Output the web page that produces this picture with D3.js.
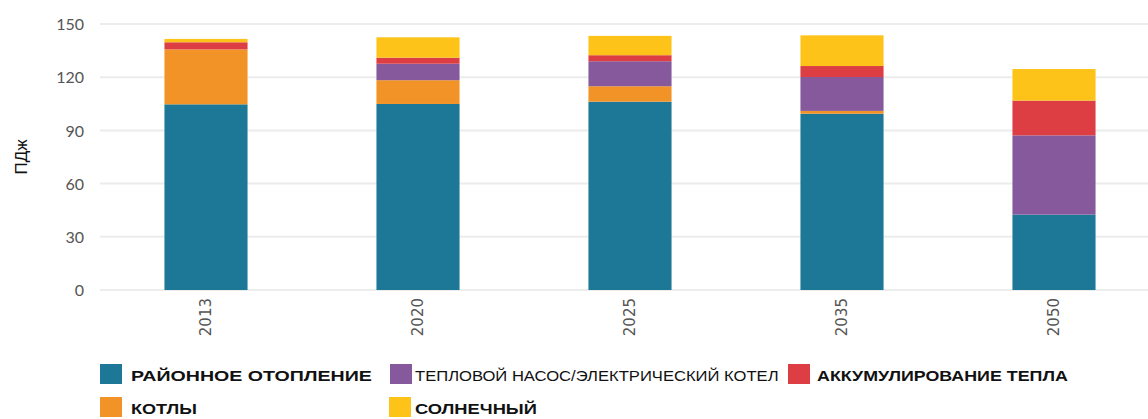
<!DOCTYPE html>
<html>
<head>
<meta charset="utf-8">
<script src="https://cdn.jsdelivr.net/npm/d3@7"></script>
<style>
  html, body { margin: 0; padding: 0; background: #fff; }
  svg { display: block; }
</style>
</head>
<body>
<svg id="chart" width="1148" height="419"></svg>
<script>
// Heat supply mix by year, PJ
const years = ["2013", "2020", "2025", "2035", "2050"];
const seriesNames = ["РАЙОННОЕ ОТОПЛЕНИЕ", "КОТЛЫ", "ТЕПЛОВОЙ НАСОС/ЭЛЕКТРИЧЕСКИЙ КОТЕЛ", "АККУМУЛИРОВАНИЕ ТЕПЛА", "СОЛНЕЧНЫЙ"];
const districtHeating = [104.7, 104.9, 106.2, 99.4, 42.5];
const boilers        = [31.0, 13.4, 8.7, 1.6, 0];
const heatPumps      = [0, 9.3, 14.1, 19.1, 44.7];
const heatStorage    = [4.0, 3.4, 3.4, 6.2, 19.6];
const solar          = [1.9, 11.5, 10.9, 17.3, 17.8];
const yTicks = [0, 30, 60, 90, 120, 150];
const yTitle = "ПДж";

const colors = ["#1c7896", "#f29327", "#85599b", "#dd3e44", "#fdc318"];
const seriesValues = [districtHeating, boilers, heatPumps, heatStorage, solar];

const rows = years.map((y, i) => {
  const r = { year: y };
  seriesNames.forEach((s, k) => { r[s] = seriesValues[k][i]; });
  return r;
});

const svg = d3.select("#chart");
const plotLeft = 100, plotRight = 1160, plotTop = 24, plotBottom = 290;

const x = d3.scaleBand().domain(years).range([plotLeft, plotRight])
  .paddingInner(0.608).paddingOuter(0.304);
const y = d3.scaleLinear().domain([0, 150]).range([plotBottom, plotTop]);

// gridlines
svg.append("g").selectAll("line").data(yTicks).join("line")
  .attr("x1", plotLeft).attr("x2", 1148)
  .attr("y1", d => y(d)).attr("y2", d => y(d))
  .attr("stroke", "#ececec").attr("stroke-width", 2);

// y axis labels
const yAxis = d3.axisLeft(y).tickValues(yTicks).tickSize(0).tickPadding(0);
const yg = svg.append("g").attr("transform", `translate(84,0)`).call(yAxis);
yg.select(".domain").remove();
yg.selectAll("text")
  .attr("font-family", "Lato, sans-serif").attr("font-size", 16)
  .attr("fill", "#555").attr("dy", "0.35em");

// y title
svg.append("text")
  .attr("transform", "translate(27,157) rotate(-90)")
  .attr("text-anchor", "middle")
  .attr("font-family", "'Liberation Sans', Arial, sans-serif")
  .attr("font-size", 17).attr("fill", "#111")
  .text(yTitle);

// stacked bars
const stack = d3.stack().keys(seriesNames)(rows);
svg.append("g").selectAll("g").data(stack).join("g")
  .attr("fill", (d, i) => colors[i])
  .selectAll("rect").data(d => d).join("rect")
  .attr("x", d => x(d.data.year))
  .attr("width", x.bandwidth())
  .attr("y", d => y(d[1]))
  .attr("height", d => Math.max(0, y(d[0]) - y(d[1])));

// x axis labels (rotated)
const xAxis = d3.axisBottom(x).tickSize(0).tickPadding(0);
const xg = svg.append("g").attr("transform", `translate(0,${plotBottom})`).call(xAxis);
xg.select(".domain").remove();
xg.selectAll("text")
  .attr("font-family", "'DejaVu Sans', sans-serif").attr("font-size", 15)
  .attr("fill", "#555")
  .attr("text-anchor", "end")
  .attr("dy", null)
  .attr("transform", "translate(0,8) rotate(-90)")
  .attr("x", 0).attr("y", 0)
  .attr("dominant-baseline", "central");

// legend: each label is stretched horizontally to its target width
const legendItems = [
  { name: seriesNames[0], color: colors[0], x: 100, y: 364, tx: 31, w: 241, bold: true },
  { name: seriesNames[2], color: colors[2], x: 390, y: 364, tx: 25, w: 364, bold: false },
  { name: seriesNames[3], color: colors[3], x: 788, y: 364, tx: 29, w: 251, bold: true },
  { name: seriesNames[1], color: colors[1], x: 100, y: 397, tx: 31, w: 66, bold: true },
  { name: seriesNames[4], color: colors[4], x: 389, y: 397, tx: 26, w: 122, bold: true }
];
const lg = svg.append("g").selectAll("g").data(legendItems).join("g")
  .attr("transform", d => `translate(${d.x},${d.y})`);
lg.append("rect").attr("width", 22).attr("height", 20).attr("fill", d => d.color);
lg.append("text")
  .attr("font-family", "'Liberation Sans', Arial, sans-serif")
  .attr("font-size", 15.5)
  .attr("font-weight", d => d.bold ? "bold" : "normal")
  .attr("fill", "#111")
  .text(d => d.name)
  .each(function(d) {
    const natural = this.getComputedTextLength();
    const sx = d.w / natural;
    d3.select(this).attr("transform", `translate(${d.tx},17) scale(${sx},1)`);
  });
</script>
</body>
</html>
